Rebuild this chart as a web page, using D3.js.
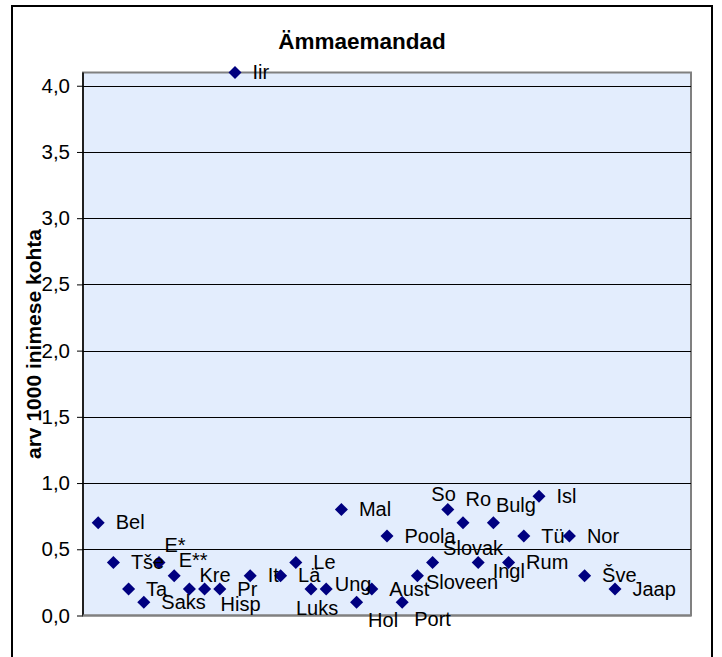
<!DOCTYPE html>
<html>
<head>
<meta charset="utf-8">
<script src="https://cdn.jsdelivr.net/npm/d3@7/dist/d3.min.js"></script>
<style>
  html, body { margin: 0; padding: 0; background: #fff; }
  svg { display: block; }
  text { font-family: "Liberation Sans", Arial, sans-serif; fill: #000; }
</style>
</head>
<body>
<svg id="chart" width="722" height="657"></svg>
<script>
// Country abbreviations (Estonian), their position on the x axis and the value
const countries = ["Bel", "Tše", "Ta", "Saks", "E*", "E**", "Kre", "Hisp", "Pr", "Iir",
  "It", "Lä", "Le", "Luks", "Ung", "Mal", "Hol", "Aust", "Poola", "Port",
  "Sloveen", "Slovak", "So", "Ro", "Ingl", "Bulg", "Rum", "Tü", "Isl", "Nor",
  "Šve", "Jaap"];
const positions = [1, 2, 3, 4, 5, 6, 7, 8, 9, 10,
  11, 13, 14, 15, 16, 17, 18, 19, 20, 21,
  22, 23, 24, 25, 26, 27, 28, 29, 30, 32,
  33, 35];
const midwives = [0.7, 0.4, 0.2, 0.1, 0.4, 0.3, 0.2, 0.2, 0.2, 4.1,
  0.3, 0.3, 0.4, 0.2, 0.2, 0.8, 0.1, 0.2, 0.6, 0.1,
  0.3, 0.4, 0.8, 0.7, 0.4, 0.7, 0.4, 0.6, 0.9, 0.6,
  0.3, 0.2];
const yTicks = [0, 0.5, 1.0, 1.5, 2.0, 2.5, 3.0, 3.5, 4.0];

const chartTitle = "Ämmaemandad";
const yTitle = "arv 1000 inimese kohta";

// Hand-placed labels that would otherwise collide (pixel nudges from the default spot)
const labelNudge = {
  "E*": [-12, -17.5], "E**": [-13, -15.5], "Kre": [-7.5, -14], "Hisp": [-1.5, 15.5],
  "Luks": [-32.5, 19], "Ung": [-9, -4.5], "Hol": [-6, 18.5], "Port": [-5.5, 17],
  "Sloveen": [-9, 7], "Slovak": [-7, -14], "So": [-34, -15], "Ro": [-15, -23],
  "Ingl": [-3, 8.5], "Bulg": [-15, -17]
};

const data = countries.map((c, i) => ({ name: c, x: positions[i], v: midwives[i] }));

const svg = d3.select("#chart");
const plot = { left: 83, right: 691, top: 72.5, bottom: 615.5 };

const x = d3.scaleLinear().domain([0, 40]).range([plot.left, plot.right]);
const y = d3.scaleLinear().domain([0, 4.1]).range([plot.bottom, plot.top]);

// Outer chart frame
svg.append("rect")
  .attr("x", 12).attr("y", 6).attr("width", 700).attr("height", 700)
  .attr("fill", "#fff").attr("stroke", "#000").attr("stroke-width", 2);

// Plot area
svg.append("rect")
  .attr("x", plot.left).attr("y", plot.top)
  .attr("width", plot.right - plot.left).attr("height", plot.bottom - plot.top)
  .attr("fill", "#E3EDFD").attr("stroke", "#808080").attr("stroke-width", 2);

// Horizontal gridlines
svg.append("g").selectAll("line")
  .data(yTicks.filter(t => t > 0))
  .join("line")
  .attr("x1", plot.left).attr("x2", plot.right)
  .attr("y1", d => Math.round(y(d)) + 0.5).attr("y2", d => Math.round(y(d)) + 0.5)
  .attr("stroke", "#000").attr("stroke-width", 1);

// Y axis
const yAxis = d3.axisLeft(y)
  .tickValues(yTicks)
  .tickSize(6)
  .tickPadding(7)
  .tickFormat(d => d3.format(".1f")(d).replace(".", ","));

const gy = svg.append("g")
  .attr("transform", `translate(${plot.left},0)`)
  .call(yAxis);
gy.select(".domain").attr("stroke", "#000").attr("stroke-width", 1.5)
  .attr("d", `M0,${plot.top}V${plot.bottom}`);
gy.selectAll(".tick line").attr("stroke", "#000");
gy.selectAll(".tick text")
  .style("font-family", "'Liberation Sans', Arial, sans-serif")
  .style("font-size", "20.5px").attr("fill", "#000");

// Bottom edge of the plot
svg.append("line")
  .attr("x1", plot.left).attr("x2", plot.right)
  .attr("y1", plot.bottom).attr("y2", plot.bottom)
  .attr("stroke", "#808080").attr("stroke-width", 2);

// Title
svg.append("text")
  .attr("x", 362).attr("y", 49)
  .attr("text-anchor", "middle")
  .style("font-size", "22.5px").style("font-weight", "bold")
  .text(chartTitle);

// Y axis title
svg.append("text")
  .attr("transform", `translate(41,${(plot.top + plot.bottom) / 2}) rotate(-90)`)
  .attr("text-anchor", "middle")
  .style("font-size", "21px").style("font-weight", "bold")
  .text(yTitle);

// Markers
const diamond = d3.symbol().type(d3.symbolSquare).size(85);
svg.append("g").selectAll("path")
  .data(data)
  .join("path")
  .attr("d", diamond)
  .attr("transform", d => `translate(${x(d.x)},${y(d.v)}) rotate(45)`)
  .attr("fill", "#000080");

// Data labels
svg.append("g").selectAll("text")
  .data(data)
  .join("text")
  .attr("x", d => x(d.x) + 17.5 + (labelNudge[d.name] ? labelNudge[d.name][0] : 0))
  .attr("y", d => y(d.v) + 6.5 + (labelNudge[d.name] ? labelNudge[d.name][1] : 0))
  .style("font-size", "20px")
  .text(d => d.name);
</script>
</body>
</html>
